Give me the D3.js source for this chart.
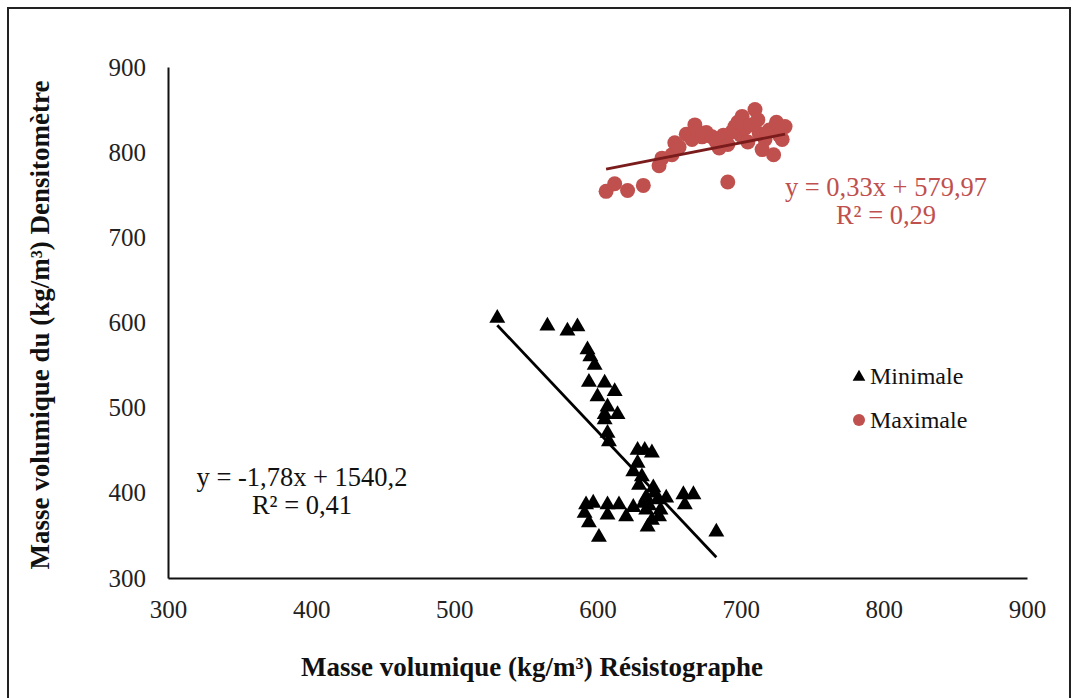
<!DOCTYPE html>
<html>
<head>
<meta charset="utf-8">
<script src="https://cdn.jsdelivr.net/npm/d3@7"></script>
<style>
  body { margin: 0; background: #fff; }
  svg text { font-family: "Liberation Serif", "Times New Roman", serif; }
</style>
</head>
<body>
<svg id="chart" width="1078" height="698"></svg>
<script>
// axis ticks
var xTicks = [300, 400, 500, 600, 700, 800, 900];
var yTicks = [300, 400, 500, 600, 700, 800, 900];

// Minimale series (black triangles): [Resistographe, Densitometre]
var minimale = [
  [530, 605], [565, 596], [579, 590], [586, 595], [593, 568], [595, 560],
  [598, 550], [594, 530], [605, 529], [612, 519], [600, 513], [607, 501],
  [614, 492], [605, 492], [605, 486], [607, 470], [608, 460], [628, 450],
  [633, 450], [638, 447], [628, 435], [625, 425], [631, 419], [629, 409],
  [639, 406], [634, 395], [642, 392], [648, 394], [660, 398], [667, 398],
  [661, 386], [592, 386], [597, 388], [591, 376], [594, 365], [607, 386],
  [607, 374], [615, 386], [620, 372], [625, 383], [634, 380], [638, 368],
  [643, 372], [635, 360], [601, 348], [683, 354], [632, 388], [640, 400],
  [636, 385], [644, 380]
];

// Maximale series (red circles)
var maximale = [
  [606, 754], [612, 763], [621, 755], [632, 761], [643, 784], [645, 793],
  [652, 797], [654, 811], [657, 806], [662, 821], [666, 815], [668, 832],
  [670, 824], [673, 818], [676, 823], [680, 818], [683, 812], [685, 805],
  [688, 820], [691, 809], [691, 765], [694, 824], [696, 830], [698, 835],
  [700, 820], [701, 842], [703, 828], [705, 812], [707, 832], [710, 850],
  [712, 838], [713, 822], [715, 803], [717, 815], [720, 826], [723, 797],
  [725, 835], [727, 820], [729, 815], [731, 830]
];

// linear trend lines: [slope, intercept]
var trendMin = [-1.78, 1540.2];
var trendMax = [0.33, 579.97];

var labelsMin = ['y = -1,78x + 1540,2', 'R² = 0,41'];
var labelsMax = ['y = 0,33x + 579,97', 'R² = 0,29'];
var legendNames = ['Minimale', 'Maximale'];

var colRed = '#c0504d';
var colRedLine = '#7a1c1c';
var serif = '"Liberation Serif", "Times New Roman", serif';

var svg = d3.select('#chart');

// outer frame
svg.append('rect')
  .attr('x', 8).attr('y', 8)
  .attr('width', 1062).attr('height', 710)
  .attr('fill', 'none')
  .attr('stroke', '#222')
  .attr('stroke-width', 2);

var x = d3.scaleLinear().domain([300, 900]).range([168, 1027]);
var y = d3.scaleLinear().domain([300, 900]).range([578, 67]);

var xAxis = svg.append('g')
  .attr('transform', 'translate(0,' + y(300) + ')')
  .call(d3.axisBottom(x).tickValues(xTicks).tickSize(0).tickPadding(22));

var yAxis = svg.append('g')
  .attr('transform', 'translate(' + x(300) + ',0)')
  .call(d3.axisLeft(y).tickValues(yTicks).tickSize(0).tickPadding(22));

[xAxis, yAxis].forEach(function (g) {
  g.attr('font-family', serif);
  g.select('.domain').attr('stroke', '#111').attr('stroke-width', 2);
  g.selectAll('text')
    .attr('fill', '#222')
    .style('font-size', '25px');
});

// trend lines over each series' x-range
function trendLine(data, coef, color) {
  var ext = d3.extent(data, function (d) { return d[0]; });
  var pts = ext.map(function (v) { return [v, coef[0] * v + coef[1]]; });
  svg.append('path')
    .attr('d', d3.line().x(function (d) { return x(d[0]); }).y(function (d) { return y(d[1]); })(pts))
    .attr('stroke', color)
    .attr('stroke-width', 2.8)
    .attr('fill', 'none');
}

// points
var tri = d3.symbol().type(d3.symbolTriangle).size(110);

svg.append('g').selectAll('circle')
  .data(maximale)
  .enter()
  .append('circle')
  .attr('cx', function (d) { return x(d[0]); })
  .attr('cy', function (d) { return y(d[1]); })
  .attr('r', 7.5)
  .attr('fill', colRed);

svg.append('g').selectAll('path')
  .data(minimale)
  .enter()
  .append('path')
  .attr('d', tri)
  .attr('transform', function (d) { return 'translate(' + x(d[0]) + ',' + y(d[1]) + ')'; })
  .attr('fill', '#000');

trendLine(maximale, trendMax, colRedLine);
trendLine(minimale, trendMin, '#000');

// equation labels
function eqLabel(lines, cx, cy, color) {
  lines.forEach(function (s, i) {
    svg.append('text')
      .attr('x', cx).attr('y', cy + i * 28)
      .attr('text-anchor', 'middle')
      .attr('fill', color)
      .style('font-size', '26.5px')
      .text(s);
  });
}
eqLabel(labelsMin, 302, 486, '#111');
eqLabel(labelsMax, 886, 196, colRed);

// legend
var leg = svg.append('g');
leg.append('path')
  .attr('d', d3.symbol().type(d3.symbolTriangle).size(70))
  .attr('transform', 'translate(859,377)')
  .attr('fill', '#000');
leg.append('circle')
  .attr('cx', 859).attr('cy', 420).attr('r', 6)
  .attr('fill', colRed);
leg.selectAll('text')
  .data(legendNames)
  .enter()
  .append('text')
  .attr('x', 870)
  .attr('y', function (d, i) { return 384 + i * 44; })
  .attr('fill', '#111')
  .style('font-size', '24px')
  .text(function (d) { return d; });

// axis titles
svg.append('text')
  .attr('x', 532).attr('y', 676)
  .attr('text-anchor', 'middle')
  .attr('font-weight', 'bold')
  .attr('fill', '#111')
  .style('font-size', '27px')
  .text('Masse volumique (kg/m³) Résistographe');

svg.append('text')
  .attr('transform', 'translate(49,325) rotate(-90)')
  .attr('text-anchor', 'middle')
  .attr('font-weight', 'bold')
  .attr('fill', '#111')
  .style('font-size', '27px')
  .text('Masse volumique du (kg/m³) Densitomètre');
</script>
</body>
</html>
